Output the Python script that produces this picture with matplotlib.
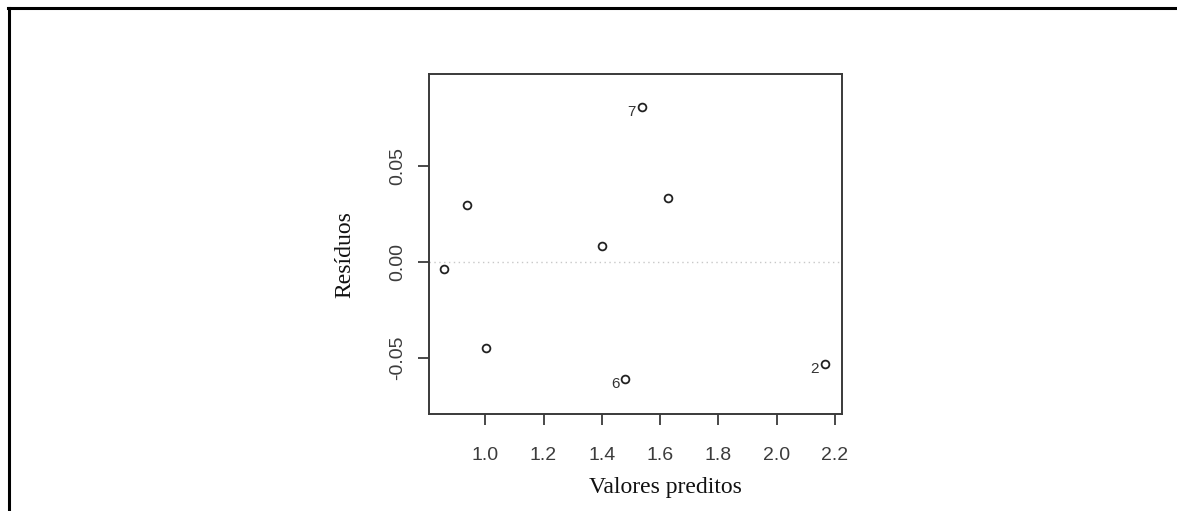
import matplotlib
matplotlib.use("Agg")
import matplotlib.pyplot as plt
from matplotlib.lines import Line2D

# Fitted values and residuals of the model
valores_preditos = [0.858, 0.938, 1.001, 1.400, 1.481, 1.537, 1.626, 2.166]
residuos = [-0.0036, 0.0298, -0.0448, 0.0083, -0.0608, 0.0807, 0.0333, -0.0531]
# Observation number shown next to the most extreme residuals ("" = no label)
rotulos = ["", "", "", "", "6", "7", "", "2"]

x_ticks = [1.0, 1.2, 1.4, 1.6, 1.8, 2.0, 2.2]
y_ticks = [-0.05, 0.00, 0.05]

W, H = 1177, 511
fig = plt.figure(figsize=(W / 100, H / 100), dpi=100)
fig.patch.set_facecolor("white")

ax = fig.add_axes([429 / W, 1 - 413.7 / H, (842.3 - 429) / W, (413.7 - 74) / H])
ax.set_xlim(0.807, 2.225)
ax.set_ylim(-0.0789, 0.0981)

# zero reference line
ax.axhline(0.0, color="#c8c8c8", lw=1.0, ls=(0, (1, 2.5)), zorder=1)

ax.plot(valores_preditos, residuos, ls="none", marker="o", ms=5.6,
        mfc="none", mec="#222222", mew=1.3, zorder=3)

for xv, yv, lab in zip(valores_preditos, residuos, rotulos):
    if lab:
        ax.annotate(lab, (xv, yv), xytext=(-7.5, -3.5), textcoords="offset points",
                    ha="center", va="center", fontsize=11,
                    family="Liberation Sans", color="#333333")

for s in ax.spines.values():
    s.set_color("#3a3a3a")
    s.set_linewidth(1.4)

ax.set_xticks(x_ticks)
ax.set_xticklabels([f"{v:.1f}" for v in x_ticks])
ax.set_yticks(y_ticks)
ax.set_yticklabels([f"{v:.2f}" for v in y_ticks], rotation=90, va="center")
ax.tick_params(axis="both", direction="out", length=8, width=1.3,
               color="#3a3a3a", labelsize=14, labelcolor="#3c3c3c")
ax.tick_params(axis="x", pad=16)
ax.tick_params(axis="y", pad=8.5)
for lab in ax.get_xticklabels() + ax.get_yticklabels():
    lab.set_family("Liberation Sans")

ax.set_xlabel("Valores preditos", family="Liberation Serif", fontsize=17,
              color="#111111", va="baseline")
ax.xaxis.set_label_coords(0.571, -0.2334)
ax.set_ylabel("Resíduos", family="Liberation Serif", fontsize=17,
              color="#111111", va="center")
ax.yaxis.set_label_coords(-0.203, 0.467)

# page border: top and left edges
fig.add_artist(Line2D([8 / W, 1.0], [1 - 8 / H, 1 - 8 / H],
                      transform=fig.transFigure, color="black", lw=2.2))
fig.add_artist(Line2D([9 / W, 9 / W], [0.0, 1 - 8 / H],
                      transform=fig.transFigure, color="black", lw=2.2))

fig.savefig("out.png", dpi=100, facecolor="white")
